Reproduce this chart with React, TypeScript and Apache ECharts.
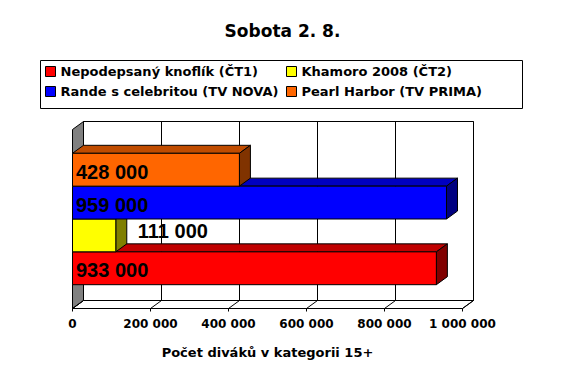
import React, { useEffect, useRef } from "react";
import * as echarts from "echarts";

const categories = [""];
const seriesNames = [
  "Nepodepsaný knoflík (ČT1)",
  "Khamoro 2008 (ČT2)",
  "Rande s celebritou (TV NOVA)",
  "Pearl Harbor (TV PRIMA)",
];
const viewers = [933000, 111000, 959000, 428000];
const xTicks = [0, 200000, 400000, 600000, 800000, 1000000];
const legendLeftColumn = [seriesNames[0], seriesNames[2]];
const legendRightColumn = [seriesNames[1], seriesNames[3]];

const frontColors = ["#FF0000", "#FFFF00", "#0000FF", "#FF6600"];
const topColors = ["#C00000", "#C0C000", "#0000C0", "#C04C00"];
const sideColors = ["#800000", "#808000", "#000080", "#803300"];

const DX = 11;
const DY = -8;
const BAR_FRAC = 0.1835;
const FONT = "DejaVu Sans";

const fmt = (v: number) =>
  String(v).replace(/\B(?=(\d{3})+(?!\d))/g, " ");

export default function App() {
  const ref = useRef<HTMLDivElement>(null);
  useEffect(() => {
    if (!ref.current) return;
    const chart = echarts.init(ref.current, undefined, { renderer: "svg" });

    const wallSeries: any = {
      type: "custom",
      name: "walls",
      z: 1,
      clip: false,
      silent: true,
      data: xTicks.map((t) => [t, 0]),
      renderItem: (params: any, api: any) => {
        const cs = params.coordSys;
        const x0 = cs.x;
        const x1 = cs.x + cs.width;
        const ty = cs.y;
        const fy = cs.y + cs.height;
        const p = api.coord([api.value(0), 0]);
        const children: any[] = [];
        if (params.dataIndex === 0) {
          children.push({
            type: "rect",
            shape: { x: x0 + DX, y: ty + DY, width: cs.width, height: cs.height },
            style: { fill: "#fff", stroke: "#000", lineWidth: 1 },
          });
          children.push({
            type: "polygon",
            shape: { points: [[x0, fy], [x1, fy], [x1 + DX, fy + DY], [x0 + DX, fy + DY]] },
            style: { fill: "#fff", stroke: "#000", lineWidth: 1 },
          });
          children.push({
            type: "polygon",
            shape: { points: [[x0, ty], [x0 + DX, ty + DY], [x0 + DX, fy + DY], [x0, fy]] },
            style: { fill: "#808080", stroke: "#000", lineWidth: 1 },
          });
        }
        children.push({
          type: "line",
          shape: { x1: p[0] + DX, y1: ty + DY, x2: p[0] + DX, y2: fy + DY },
          style: { stroke: "#000", lineWidth: 1 },
        });
        children.push({
          type: "line",
          shape: { x1: p[0], y1: fy, x2: p[0] + DX, y2: fy + DY },
          style: { stroke: "#000", lineWidth: 1 },
        });
        return { type: "group", children };
      },
    };

    const barSeries: any[] = seriesNames.map((name, idx) => ({
      type: "custom",
      name,
      z: 2,
      clip: false,
      itemStyle: { color: frontColors[idx] },
      data: [[viewers[idx], 0]],
      renderItem: (params: any, api: any) => {
        const v = api.value(0);
        const base = api.coord([0, 0]);
        const end = api.coord([v, 0]);
        const band = api.size([0, 1])[1];
        const h = band * BAR_FRAC;
        const top = base[1] + (1 - idx) * h;
        const x0 = base[0];
        const x1 = end[0];
        const stroke = { stroke: "#000", lineWidth: 1 };
        const inside = x1 - x0 > 100;
        const label = inside
          ? {
              type: "text",
              z2: 10,
              x: x0 + 3.5,
              y: top + h / 2 + 2,
              style: {
                text: fmt(v),
                fontSize: 20,
                fontWeight: "bold",
                fontFamily: "Liberation Sans",
                fill: "#000",
                align: "left",
                verticalAlign: "middle",
              },
            }
          : {
              type: "text",
              z2: 10,
              x: x1 + DX + 11,
              y: top + h / 2 + DY / 2,
              style: {
                text: fmt(v),
                fontSize: 20,
                fontWeight: "bold",
                fontFamily: "Liberation Sans",
                fill: "#000",
                align: "left",
                verticalAlign: "middle",
              },
            };
        return {
          type: "group",
          children: [
            {
              type: "polygon",
              shape: { points: [[x0, top], [x1, top], [x1 + DX, top + DY], [x0 + DX, top + DY]] },
              style: { fill: topColors[idx], ...stroke },
            },
            {
              type: "polygon",
              shape: { points: [[x1, top], [x1 + DX, top + DY], [x1 + DX, top + h + DY], [x1, top + h]] },
              style: { fill: sideColors[idx], ...stroke },
            },
            {
              type: "rect",
              shape: { x: x0, y: top, width: x1 - x0, height: h },
              style: { fill: frontColors[idx], ...stroke },
            },
            label,
          ],
        };
      },
    }));

    const legendBase = {
      orient: "vertical",
      top: 64.5,
      padding: 0,
      itemWidth: 10,
      itemHeight: 10,
      itemGap: 6,
      icon: "rect",
      selectedMode: false,
      itemStyle: { borderColor: "#000", borderWidth: 1 },
      textStyle: {
        fontFamily: FONT,
        fontWeight: "bold",
        fontSize: 13,
        lineHeight: 14,
        color: "#000",
      },
    };

    chart.setOption({
      animation: false,
      backgroundColor: "#fff",
      title: {
        text: "Sobota 2. 8.",
        left: "center",
        top: 22,
        padding: 0,
        textStyle: { fontFamily: FONT, fontWeight: "bold", fontSize: 17, color: "#000" },
      },
      legend: [
        { ...legendBase, left: 45, data: legendLeftColumn },
        { ...legendBase, left: 286, data: legendRightColumn },
      ],
      graphic: [
        {
          type: "rect",
          shape: { x: 40.5, y: 60.5, width: 482, height: 48 },
          style: { fill: "none", stroke: "#000", lineWidth: 1 },
          z: -1,
        },
      ],
      grid: { left: 72.5, right: 102.5, top: 129.5, bottom: 71.5 },
      xAxis: {
        type: "value",
        min: 0,
        max: 1000000,
        interval: 200000,
        splitLine: { show: false },
        axisLine: { show: true, lineStyle: { color: "#000", width: 1 } },
        axisTick: { show: true, length: 3, lineStyle: { color: "#000" } },
        axisLabel: {
          margin: 9,
          fontFamily: FONT,
          fontWeight: "bold",
          fontSize: 12,
          color: "#000",
          formatter: (v: number) => fmt(v),
        },
        name: "Počet diváků v kategorii 15+",
        nameLocation: "middle",
        nameGap: 37,
        nameTextStyle: { fontFamily: FONT, fontWeight: "bold", fontSize: 13, color: "#000" },
      },
      yAxis: {
        type: "category",
        data: categories,
        show: false,
      },
      series: [wallSeries, ...barSeries],
    });

    return () => chart.dispose();
  }, []);

  return (
    <div
      ref={ref}
      style={{ position: "absolute", left: 0, top: 0, width: 565, height: 380 }}
    />
  );
}
